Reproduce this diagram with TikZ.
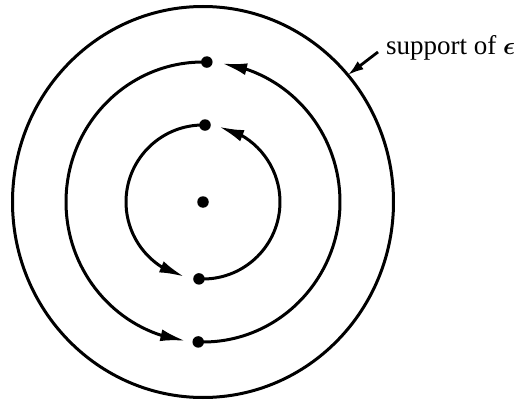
\documentclass[tikz,border=0pt]{standalone}
\usepackage{amsmath}
\usepackage{fontspec}
\setmainfont{Liberation Serif}
\usetikzlibrary{arrows.meta,bending,calc}
\begin{document}
\begin{tikzpicture}[x=1pt,y=1pt,
  ring/.style={line width=3pt},
  dotnode/.style={circle,fill=black,inner sep=0pt,minimum size=11.5pt},
  flowarrow/.style={ring,-{Latex[length=25pt,width=12pt,flex]}},
  labelarrow/.style={line width=2.8pt,-{Latex[length=16pt,width=10pt]}}]
\useasboundingbox (0,0) rectangle (523,400);
\coordinate (c) at (203,198);
% outer circle
\draw[ring] (c) ellipse [x radius=190.5, y radius=195.5];
% middle ring
\node[dotnode] (mtop) at ($(c)+(88.4:137 and 140)$) {};
\node[dotnode] (mbot) at ($(c)+(268:137 and 140)$) {};
\draw[flowarrow] (mtop.center) arc[start angle=88.4, end angle=262.6, x radius=137, y radius=140];
\draw[flowarrow] (mbot.center) arc[start angle=268, end angle=442, x radius=137, y radius=140];
% inner ring
\node[dotnode] (itop) at ($(c)+(88.5:77)$) {};
\node[dotnode] (ibot) at ($(c)+(267:77)$) {};
\draw[flowarrow] (itop.center) arc[start angle=88.5, end angle=256, radius=77];
\draw[flowarrow] (ibot.center) arc[start angle=267, end angle=438, radius=77];
% centre
\node[dotnode] (cdot) at (c) {};
% label
\node[anchor=base west,inner sep=0pt,font=\fontsize{27}{30}\selectfont] (lab) at (386,345) {support of $\boldsymbol{\epsilon}$};
\coordinate (tip) at ($(c)+(40.5:190.5 and 195.5)$);
\coordinate (ls) at ($(lab.base west)+(-8,3)$);
\draw[labelarrow] (ls) -- (tip);
\end{tikzpicture}
\end{document}
